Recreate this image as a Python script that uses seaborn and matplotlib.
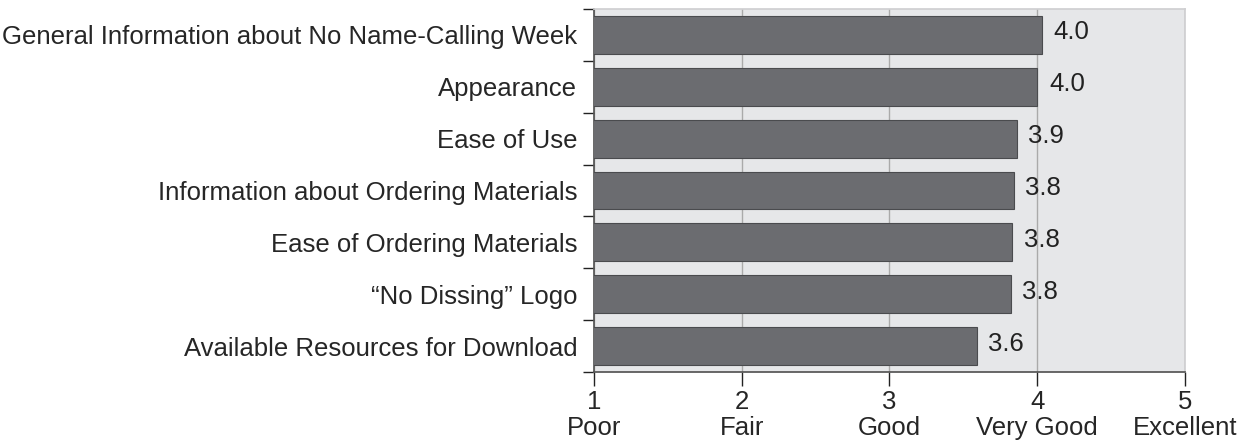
import matplotlib
matplotlib.use("Agg")
import matplotlib.pyplot as plt
import seaborn as sns
import pandas as pd

# Données du graphique
categories = [
    "General Information about No Name-Calling Week",
    "Appearance",
    "Ease of Use",
    "Information about Ordering Materials",
    "Ease of Ordering Materials",
    "\u201cNo Dissing\u201d Logo",
    "Available Resources for Download",
]
ratings = [4.03, 4.00, 3.86, 3.84, 3.83, 3.82, 3.59]
tick_values = [1, 2, 3, 4, 5]
tick_labels = ["1\nPoor", "2\nFair", "3\nGood", "4\nVery Good", "5\nExcellent"]

df = pd.DataFrame({"item": categories, "rating": ratings})

sns.set_theme(style="white")
plt.rcParams["font.family"] = ["Liberation Sans", "DejaVu Sans"]

fig = plt.figure(figsize=(12.44, 4.44), dpi=100)
ax = fig.add_axes([0.4775, 0.162, 0.475, 0.818])
ax.set_facecolor("#e6e7e9")

sns.barplot(data=df, x="rating", y="item", orient="h", color="#6b6c70",
            saturation=1, width=0.73, edgecolor="#4a4b4e", linewidth=0.8,
            ax=ax, zorder=3)

ax.set_xlim(1, 5)
ax.set_xticks(tick_values)
ax.set_xticklabels(tick_labels, fontsize=18.5, linespacing=1.12)
ax.tick_params(axis="x", length=10, width=1, color="#222222", pad=3, direction="out",
               bottom=True)
ax.tick_params(axis="y", which="major", length=0, pad=12, labelsize=18.5)
ax.set_yticks([i - 0.5 for i in range(len(categories) + 1)], minor=True)
ax.tick_params(axis="y", which="minor", length=8, width=1, color="#222222", left=True)
ax.grid(axis="x", color="#aaaaaa", linewidth=1, zorder=0)
ax.set_axisbelow(True)
ax.set_xlabel("")
ax.set_ylabel("")
for side in ["top", "right"]:
    ax.spines[side].set_color("#cfcfd1")
ax.spines["left"].set_color("#555555")
ax.spines["bottom"].set_color("#555555")

for i, v in enumerate(ratings):
    ax.text(v + 0.08, i - 0.05, f"{v:.1f}", va="center", ha="left", fontsize=18.5,
            color="#222222", zorder=4)

fig.savefig("out.png", dpi=100)
